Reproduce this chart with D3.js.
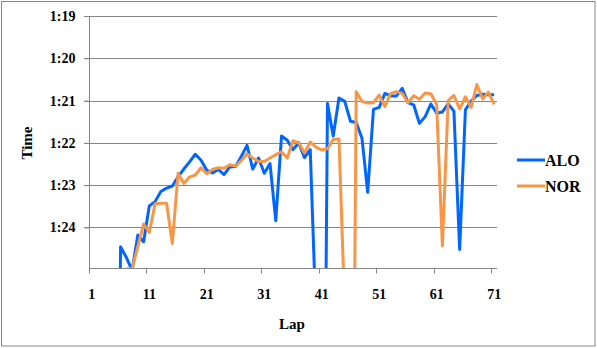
<!DOCTYPE html>
<html>
<head>
<meta charset="utf-8">
<script src="https://cdn.jsdelivr.net/npm/d3@7"></script>
<style>
  body { margin: 0; background: #fff; }
  text { font-family: "Times New Roman", "Liberation Serif", serif; font-weight: bold; fill: #000; }
</style>
</head>
<body>
<div id="chart"></div>
<script>
// lap times in seconds (1:21 = 81). null = no lap time shown
const alo = [null, null, null, null, 95.0, 84.46, 84.71, 85.02, 84.18, 84.34,
  83.49, 83.39, 83.15, 83.07, 83.02, 82.80, 82.62, 82.45, 82.27, 82.41,
  82.65, 82.71, 82.63, 82.75, 82.57, 82.56, 82.32, 82.06, 82.62, 82.36,
  82.72, 82.49, 83.84, 81.84, 81.94, 82.16, 82.00, 82.35, 82.16, 86.1,
  97.5, 81.07, 81.84, 80.94, 81.02, 81.49, 81.52, 81.89, 83.17, 81.21,
  81.16, 80.83, 80.89, 80.89, 80.71, 81.05, 81.10, 81.54, 81.38, 81.08,
  81.30, 81.27, 81.08, 81.25, 84.52, 81.22, 81.01, 80.88, 80.85, 80.86,
  80.86];

const nor = [null, null, null, null, null, null, 84.98, 84.98, 84.45, 83.92,
  84.12, 83.44, 83.43, 83.43, 84.38, 82.72, 82.96, 82.81, 82.76, 82.59,
  82.73, 82.63, 82.59, 82.60, 82.52, 82.55, 82.42, 82.26, 82.36, 82.44,
  82.44, 82.36, 82.28, 82.21, 82.36, 81.95, 82.00, 82.24, 81.98, 82.10,
  82.17, 82.14, 81.92, 81.91, 85.9, 98.0, 80.79, 81.02, 81.06, 81.05,
  80.87, 81.14, 80.83, 80.79, 80.83, 81.05, 80.89, 80.97, 80.82, 80.84,
  81.10, 84.44, 81.00, 80.88, 81.20, 80.91, 81.16, 80.62, 80.96, 80.80,
  81.09];

const drivers = ["ALO", "NOR"];
const laps = alo.map((d, i) => i + 1);
const lapTicks = [1, 11, 21, 31, 41, 51, 61, 71];
const timeTicks = [79, 80, 81, 82, 83, 84];

const colors = { ALO: "#0066FF", NOR: "#F79646" };
const series = { ALO: alo, NOR: nor };

const W = 597, H = 348;
const plot = { left: 89, right: 497, top: 16, bottom: 268 };

const svg = d3.select("#chart").append("svg")
  .attr("width", W)
  .attr("height", H);

// outer frame
svg.append("rect")
  .attr("x", 1.5).attr("y", 1.5)
  .attr("width", 593.5).attr("height", 344.5)
  .attr("fill", "#fff")
  .attr("stroke", "#868686");

const x = d3.scaleBand()
  .domain(laps)
  .range([plot.left, plot.right]);

const y = d3.scaleLinear()
  .domain([79, 84.96])
  .range([plot.top, plot.bottom]);

const fmt = s => Math.floor(s / 60) + ":" + String(Math.round(s % 60)).padStart(2, "0");

// gridlines
svg.append("g")
  .selectAll("line")
  .data(timeTicks)
  .enter().append("line")
  .attr("x1", plot.left - 5).attr("x2", plot.right)
  .attr("y1", d => Math.round(y(d)) + 0.5)
  .attr("y2", d => Math.round(y(d)) + 0.5)
  .attr("stroke", "#868686");

// y axis
const yAxis = svg.append("g")
  .attr("transform", `translate(${plot.left + 0.5},0)`)
  .call(d3.axisLeft(y).tickValues(timeTicks).tickFormat(fmt).tickSize(5).tickPadding(9));
yAxis.select(".domain").attr("stroke", "#868686").attr("d", `M0,${plot.top}V${plot.bottom}`);
yAxis.selectAll(".tick line").attr("stroke", "#868686");
yAxis.selectAll(".tick text").style("font-size", "14px").attr("fill", "#000");

// x axis: ticks sit on the category boundaries, labels at centres
const xg = svg.append("g").attr("transform", `translate(0,${plot.bottom + 0.5})`);
xg.append("line")
  .attr("x1", plot.left).attr("x2", plot.right)
  .attr("stroke", "#868686");
xg.selectAll(".xt")
  .data(lapTicks)
  .enter().append("line")
  .attr("class", "xt")
  .attr("x1", d => Math.round(x(d)) + 0.5)
  .attr("x2", d => Math.round(x(d)) + 0.5)
  .attr("y1", 0).attr("y2", 5)
  .attr("stroke", "#868686");
xg.selectAll("text")
  .data(lapTicks)
  .enter().append("text")
  .attr("x", d => x(d) + x.bandwidth() / 2)
  .attr("y", 30)
  .attr("text-anchor", "middle")
  .style("font-size", "14px")
  .text(d => d);

// axis titles
svg.append("text")
  .attr("x", 292).attr("y", 329)
  .attr("text-anchor", "middle")
  .style("font-size", "15px")
  .text("Lap");

svg.append("text")
  .attr("transform", "translate(32,143) rotate(-90)")
  .attr("text-anchor", "middle")
  .style("font-size", "15px")
  .text("Time");

// lines
svg.append("clipPath").attr("id", "clip")
  .append("rect")
  .attr("x", plot.left).attr("y", plot.top)
  .attr("width", plot.right - plot.left)
  .attr("height", plot.bottom - plot.top);

const line = d3.line()
  .defined(d => d != null)
  .x((d, i) => x(laps[i]) + x.bandwidth() / 2)
  .y(d => y(d));

const lines = svg.append("g").attr("clip-path", "url(#clip)");
drivers.forEach(name => {
  lines.append("path")
    .datum(series[name])
    .attr("d", line)
    .attr("fill", "none")
    .attr("stroke", colors[name])
    .attr("stroke-width", 3)
    .attr("stroke-linejoin", "round");
});

// legend
const legend = svg.selectAll(".legend")
  .data(drivers)
  .enter().append("g")
  .attr("class", "legend")
  .attr("transform", (d, i) => `translate(517,${160 + i * 26})`);

legend.append("line")
  .attr("x1", 0).attr("x2", 28)
  .attr("stroke", d => colors[d])
  .attr("stroke-width", 3);

legend.append("text")
  .attr("x", 28)
  .attr("y", 5.5)
  .style("font-size", "16px")
  .text(d => d);
</script>
</body>
</html>
